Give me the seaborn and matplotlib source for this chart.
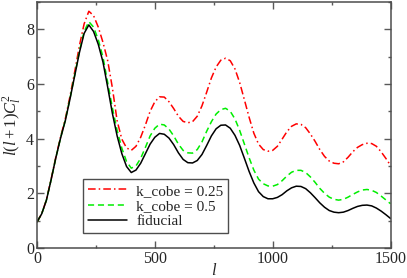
import matplotlib
matplotlib.use("Agg")
import matplotlib.pyplot as plt
import seaborn as sns
import pandas as pd
from matplotlib.ticker import MultipleLocator

# multipole grid (step 20) and curves
ell = list(range(0, 1501, 20))

fiducial = [0.95, 1.25, 1.75, 2.5, 3.3, 4.02, 4.65, 5.45, 6.3, 7.15, 7.85,
            8.16, 7.92, 7.45, 6.8, 5.88, 4.92, 4.1, 3.45, 2.98, 2.76,
            2.85, 3.1, 3.45, 3.8, 4.05, 4.19, 4.16, 4.02, 3.78, 3.48,
            3.24, 3.12, 3.11, 3.2, 3.42, 3.75, 4.1, 4.36, 4.49, 4.5,
            4.38, 4.12, 3.75, 3.28, 2.8, 2.38, 2.06, 1.88, 1.8, 1.8,
            1.85, 1.95, 2.09, 2.2, 2.26, 2.25, 2.17, 2.02, 1.84, 1.65,
            1.49, 1.37, 1.31, 1.29, 1.31, 1.37, 1.45, 1.52, 1.56, 1.57,
            1.54, 1.46, 1.35, 1.22, 1.08]

kcobe_05 = [0.95, 1.25, 1.75, 2.5, 3.3, 4.03, 4.67, 5.47, 6.33, 7.2, 7.92,
            8.28, 8.08, 7.62, 6.98, 6.05, 5.12, 4.3, 3.65, 3.16, 2.92,
            3.0, 3.28, 3.68, 4.1, 4.38, 4.53, 4.5, 4.35, 4.1, 3.8,
            3.57, 3.48, 3.47, 3.6, 3.88, 4.27, 4.62, 4.9, 5.06, 5.11,
            5.0, 4.72, 4.3, 3.8, 3.3, 2.85, 2.52, 2.35, 2.27, 2.26,
            2.32, 2.46, 2.63, 2.77, 2.84, 2.84, 2.76, 2.6, 2.4, 2.18,
            2.0, 1.86, 1.78, 1.75, 1.78, 1.86, 1.96, 2.05, 2.12, 2.14,
            2.11, 2.03, 1.9, 1.76, 1.62]

kcobe_025 = [0.95, 1.25, 1.76, 2.52, 3.33, 4.06, 4.72, 5.55, 6.45, 7.4, 8.2,
             8.66, 8.5, 8.08, 7.52, 6.85, 5.85, 4.65, 3.98, 3.66, 3.57,
             3.72, 4.05, 4.5, 5.0, 5.35, 5.53, 5.52, 5.35, 5.1, 4.82,
             4.63, 4.58, 4.62, 4.82, 5.2, 5.7, 6.22, 6.62, 6.87, 6.94,
             6.85, 6.55, 6.05, 5.42, 4.78, 4.2, 3.8, 3.6, 3.54, 3.57,
             3.72, 3.98, 4.25, 4.45, 4.54, 4.52, 4.4, 4.17, 3.9, 3.6,
             3.35, 3.18, 3.1, 3.08, 3.15, 3.32, 3.52, 3.68, 3.78, 3.83,
             3.82, 3.72, 3.52, 3.28, 3.02]

series_names = ["k_cobe = 0.25", "k_cobe = 0.5", "fiducial"]
series_colors = ["#ff0000", "#00ee00", "#000000"]

df = pd.DataFrame({
    "ell": ell * 3,
    "value": kcobe_025 + kcobe_05 + fiducial,
    "model": [series_names[0]] * len(ell) + [series_names[1]] * len(ell)
             + [series_names[2]] * len(ell),
})

sns.set_style("ticks")
plt.rcParams["font.family"] = ["Liberation Serif", "DejaVu Serif"]
plt.rcParams["mathtext.fontset"] = "custom"
plt.rcParams["mathtext.it"] = "Liberation Serif:italic"
plt.rcParams["mathtext.rm"] = "Liberation Serif"

fig = plt.figure(figsize=(4.07, 2.78), dpi=100)
ax = fig.add_axes([0.0909, 0.108, 0.8686, 0.885])

styles = [(0, (5, 2, 1, 2)), (0, (4, 2.5)), "-"]
for name, color, ls in zip(series_names, series_colors, styles):
    sub = df[df["model"] == name]
    sns.lineplot(data=sub, x="ell", y="value", ax=ax, color=color,
                 linestyle=ls, linewidth=1.1, label=name)

ax.set_xlim(0, 1500)
ax.set_ylim(0, 9)
ax.xaxis.set_major_locator(MultipleLocator(500))
ax.xaxis.set_minor_locator(MultipleLocator(250))
ax.yaxis.set_major_locator(MultipleLocator(2))
ax.yaxis.set_minor_locator(MultipleLocator(1))
ax.tick_params(which="both", direction="in", top=True, right=True,
               color="0.35", labelsize=11.5, pad=2)
ax.tick_params(which="major", length=5, width=1)
ax.tick_params(which="minor", length=2.5, width=1)
for lab in ax.get_xticklabels() + ax.get_yticklabels():
    lab.set_fontfamily("Liberation Serif")
for sp in ax.spines.values():
    sp.set_color("0.3")
    sp.set_linewidth(1.1)

ax.set_xlabel(r"$\mathit{l}$", fontsize=12, labelpad=-3)
ax.set_ylabel(r"$\mathit{l(l+1)C}_l^2$", fontsize=12, labelpad=2)

leg = ax.legend(loc="lower left", bbox_to_anchor=(0.13, 0.062), borderaxespad=0,
                fontsize=11, frameon=True, fancybox=False, handlelength=2.6,
                borderpad=0.3, labelspacing=0.1, handletextpad=0.6)
leg.get_frame().set_edgecolor("0.3")
leg.get_frame().set_linewidth(1.0)
leg.get_frame().set_alpha(1)

fig.savefig("out.png", dpi=100)
